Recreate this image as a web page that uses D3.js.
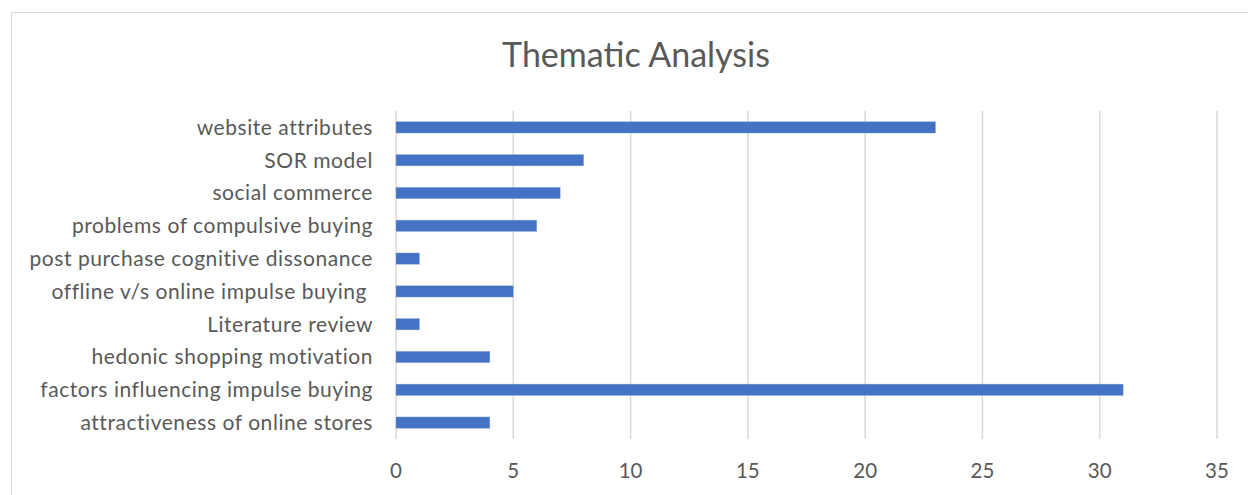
<!DOCTYPE html>
<html>
<head>
<meta charset="utf-8">
<script src="https://cdn.jsdelivr.net/npm/d3@7"></script>
<style>
  body { margin: 0; background: #fff; }
  svg { display: block; }
  text { font-family: Lato, "Open Sans", sans-serif; fill: #595959; }
</style>
</head>
<body>
<svg id="chart" width="1248" height="495"></svg>
<script>
// Themes, listed top to bottom as drawn
const categories = [
  "website attributes",
  "SOR model",
  "social commerce",
  "problems of compulsive buying",
  "post purchase cognitive dissonance",
  "offline v/s online impulse buying ",
  "Literature review",
  "hedonic shopping motivation",
  "factors influencing impulse buying",
  "attractiveness of online stores"
];
const counts = [23, 8, 7, 6, 1, 5, 1, 4, 31, 4];
const xTicks = [0, 5, 10, 15, 20, 25, 30, 35];
const title = "Thematic Analysis";

const svg = d3.select("#chart");

// Chart frame (extends past the right and bottom edges)
svg.append("rect")
  .attr("x", 11.5).attr("y", 12.5)
  .attr("width", 1260).attr("height", 500)
  .attr("fill", "#fff")
  .attr("stroke", "#d9d9d9").attr("stroke-width", 1);

const plot = { left: 396, right: 1217, top: 111, bottom: 439 };

const x = d3.scaleLinear().domain([0, 35]).range([plot.left, plot.right]);
const y = d3.scaleBand()
  .domain(categories)
  .range([plot.top, plot.bottom])
  .paddingInner(0.655)
  .paddingOuter(0.3275);

// Vertical gridlines
svg.append("g")
  .selectAll("line")
  .data(xTicks)
  .join("line")
  .attr("x1", d => x(d)).attr("x2", d => x(d))
  .attr("y1", plot.top).attr("y2", plot.bottom)
  .attr("stroke", "#d9d9d9").attr("stroke-width", 1.5);

// Bars
svg.append("g")
  .selectAll("rect")
  .data(categories.map((c, i) => ({ c, v: counts[i] })))
  .join("rect")
  .attr("x", x(0))
  .attr("y", d => y(d.c))
  .attr("width", d => x(d.v) - x(0))
  .attr("height", y.bandwidth())
  .attr("fill", "#4472c4")
  .attr("stroke", "#8faadc").attr("stroke-width", 0.6).attr("stroke-opacity", 0.6);

// Category labels
svg.append("g")
  .selectAll("text")
  .data(categories)
  .join("text")
  .attr("x", 373)
  .attr("y", d => y(d) + y.bandwidth() / 2)
  .attr("dy", "0.35em")
  .attr("text-anchor", "end")
  .attr("font-size", 21)
  .attr("letter-spacing", 0.55)
  .style("white-space", "pre")
  .text(d => d);

// Value axis labels
svg.append("g")
  .selectAll("text")
  .data(xTicks)
  .join("text")
  .attr("x", d => x(d))
  .attr("y", 471)
  .attr("dy", "0.35em")
  .attr("text-anchor", "middle")
  .attr("font-size", 20.5)
  .text(d => d);

// Title
svg.append("text")
  .attr("x", 636)
  .attr("y", 67)
  .attr("text-anchor", "middle")
  .attr("font-size", 34)
  .text(title);
</script>
</body>
</html>
